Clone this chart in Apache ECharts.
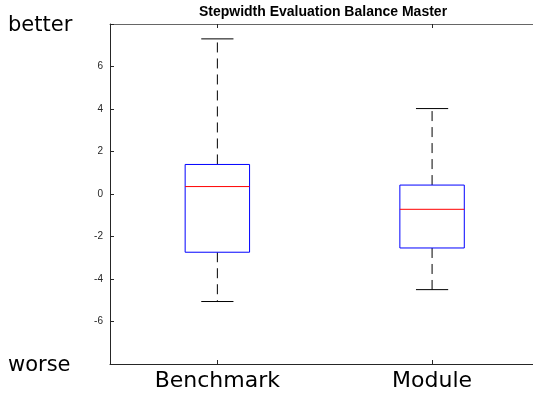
<!DOCTYPE html>
<html>
<head>
<meta charset="utf-8">
<script src="https://cdn.jsdelivr.net/npm/echarts@6/dist/echarts.min.js"></script>
<style>
html,body{margin:0;padding:0;background:#fff;}
#chart{width:533px;height:393px;}
</style>
</head>
<body>
<div id="chart"></div>
<script>
const categories = ['Benchmark', 'Module'];
const positions = [1, 2];
const whiskerLow = [-5.06, -4.50];
const q1 = [-2.74, -2.54];
const median = [0.35, -0.72];
const q3 = [1.39, 0.42];
const whiskerHigh = [7.30, 4.02];
const yTicks = [-6, -4, -2, 0, 2, 4, 6];

const boxData = categories.map((c, i) => [positions[i], whiskerLow[i], q1[i], median[i], q3[i], whiskerHigh[i]]);

const chart = echarts.init(document.getElementById('chart'), null, {renderer: 'canvas'});

function renderBox(params, api) {
  const pos = api.value(0);
  const pLow = api.coord([pos, api.value(1)]);
  const pQ1 = api.coord([pos, api.value(2)]);
  const pMed = api.coord([pos, api.value(3)]);
  const pQ3 = api.coord([pos, api.value(4)]);
  const pHigh = api.coord([pos, api.value(5)]);
  const bw = api.size([0.3, 0])[0];
  const cw = bw / 2;
  const x = pMed[0];
  const dash = {stroke: '#000', lineWidth: 1, lineDash: [10, 6]};
  const solid = {stroke: '#000', lineWidth: 1};
  return {
    type: 'group',
    children: [
      {type: 'line', shape: {x1: x, y1: pQ3[1], x2: x, y2: pHigh[1]}, style: dash},
      {type: 'line', shape: {x1: x, y1: pQ1[1], x2: x, y2: pLow[1]}, style: dash},
      {type: 'line', shape: {x1: x - cw / 2, y1: pHigh[1], x2: x + cw / 2, y2: pHigh[1]}, style: solid},
      {type: 'line', shape: {x1: x - cw / 2, y1: pLow[1], x2: x + cw / 2, y2: pLow[1]}, style: solid},
      {type: 'rect', shape: {x: x - bw / 2, y: pQ3[1], width: bw, height: pQ1[1] - pQ3[1]},
        style: {fill: '#fff', stroke: '#0000ff', lineWidth: 1}},
      {type: 'line', shape: {x1: x - bw / 2, y1: pMed[1], x2: x + bw / 2, y2: pMed[1]},
        style: {stroke: '#ff0000', lineWidth: 1}}
    ]
  };
}

const axisColor = '#262626';
const xMin = 0.5, xMax = 2.47;

chart.setOption({
  animation: false,
  backgroundColor: '#fff',
  grid: {left: 110, right: 0, top: 24, bottom: 29, containLabel: false},
  xAxis: [{
    type: 'value',
    min: xMin, max: xMax,
    position: 'bottom',
    axisLine: {show: true, onZero: false, lineStyle: {color: axisColor, width: 1}},
    axisTick: {show: true, inside: true, length: 4, customValues: positions, lineStyle: {color: axisColor}},
    axisLabel: {fontSize: 22, color: '#000', fontFamily: 'DejaVu Sans', margin: 6,
      customValues: positions,
      formatter: v => categories[positions.indexOf(Math.round(v))] || ''},
    splitLine: {show: false}
  }, {
    type: 'value',
    min: xMin, max: xMax,
    position: 'top',
    axisLine: {show: true, onZero: false, lineStyle: {color: '#666', width: 1}},
    axisTick: {show: true, inside: true, length: 4, customValues: positions, lineStyle: {color: axisColor}},
    axisLabel: {show: false},
    splitLine: {show: false}
  }],
  yAxis: {
    type: 'value',
    min: -8, max: 8, interval: 2,
    axisLine: {show: true, onZero: false, lineStyle: {color: axisColor, width: 1}},
    axisTick: {show: true, inside: true, length: 4, lineStyle: {color: axisColor}},
    axisLabel: {
      fontSize: 10, color: axisColor, fontFamily: 'Liberation Sans', margin: 7,
      formatter: v => (yTicks.indexOf(v) >= 0 ? String(v) : '')
    },
    splitLine: {show: false}
  },
  graphic: [
    {type: 'text', x: 323, y: 5, style: {text: 'Stepwidth Evaluation Balance Master', fontSize: 14, fontWeight: 'bold', fontFamily: 'Liberation Sans', fill: '#000', textAlign: 'center'}},
    {type: 'text', left: 8, top: 15, style: {text: 'better', fontSize: 21, fontFamily: 'DejaVu Sans', fill: '#000'}},
    {type: 'text', left: 8, top: 355, style: {text: 'worse', fontSize: 21, fontFamily: 'DejaVu Sans', fill: '#000'}}
  ],
  series: [{
    type: 'custom',
    xAxisIndex: 0,
    renderItem: renderBox,
    encode: {x: 0, y: [1, 2, 3, 4, 5]},
    data: boxData,
    clip: false
  }]
});
</script>
</body>
</html>
